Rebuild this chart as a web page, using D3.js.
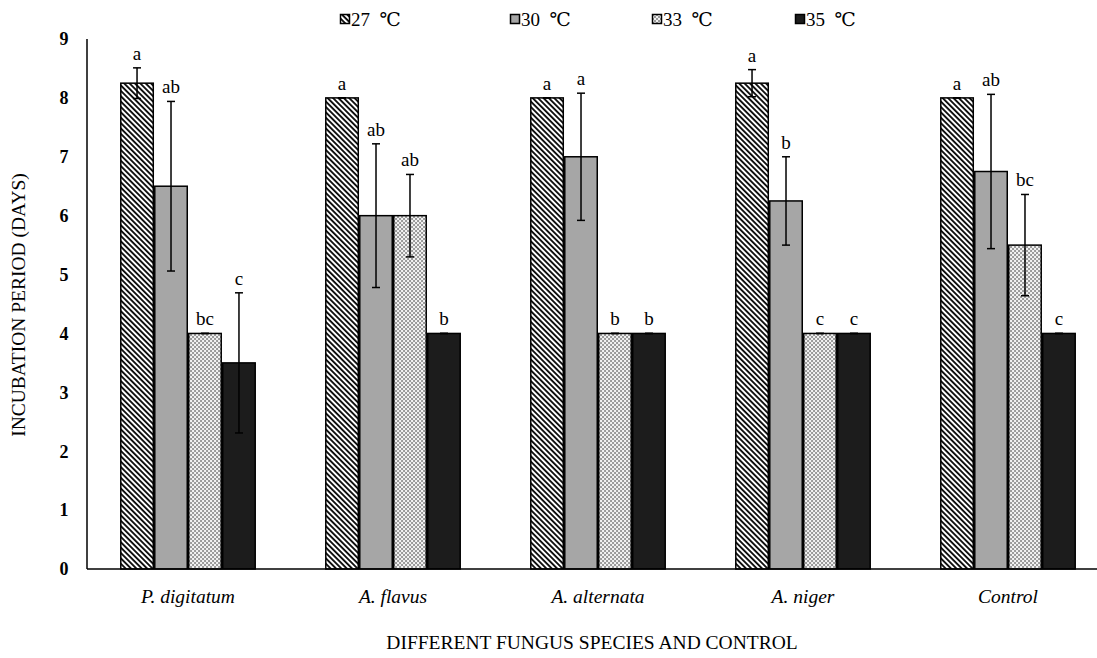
<!DOCTYPE html>
<html><head><meta charset="utf-8">
<script src="https://cdn.jsdelivr.net/npm/d3@7"></script>
<style>body{margin:0;background:#fff}svg{display:block}text{font-family:"Liberation Serif","Times New Roman","DejaVu Serif",serif}</style>
</head><body>
<svg id="chart" width="1097" height="658"></svg>
<script>
const categories = ["P. digitatum", "A. flavus", "A. alternata", "A. niger", "Control"];
const seriesNames = ["27  ℃", "30  ℃", "33  ℃", "35  ℃"];
const s27 = [8.25, 8, 8, 8.25, 8];
const s30 = [6.5, 6, 7, 6.25, 6.75];
const s33 = [4, 6, 4, 4, 5.5];
const s35 = [3.5, 4, 4, 4, 4];
const e27 = [0.26, 0, 0, 0.23, 0];
const e30 = [1.44, 1.22, 1.08, 0.75, 1.31];
const e33 = [0, 0.7, 0, 0, 0.86];
const e35 = [1.19, 0, 0, 0, 0];
const l27 = ["a", "a", "a", "a", "a"];
const l30 = ["ab", "ab", "a", "b", "ab"];
const l33 = ["bc", "ab", "b", "c", "bc"];
const l35 = ["c", "b", "b", "c", "c"];
const yTicks = [0, 1, 2, 3, 4, 5, 6, 7, 8, 9];

const values = [s27, s30, s33, s35];
const errors = [e27, e30, e33, e35];
const letters = [l27, l30, l33, l35];

const svg = d3.select("#chart");
const defs = svg.append("defs");
const ph = defs.append("pattern").attr("id", "hatch").attr("patternUnits", "userSpaceOnUse")
  .attr("width", 3.8).attr("height", 3.8).attr("patternTransform", "rotate(-45)");
ph.append("rect").attr("width", 3.8).attr("height", 3.8).attr("fill", "#fff");
ph.append("rect").attr("width", 1.9).attr("height", 3.8).attr("fill", "#111");
const pd = defs.append("pattern").attr("id", "dots").attr("patternUnits", "userSpaceOnUse")
  .attr("width", 4).attr("height", 4);
pd.append("rect").attr("width", 4).attr("height", 4).attr("fill", "#f2f2f2");
pd.append("rect").attr("width", 2).attr("height", 2).attr("fill", "#9a9a9a");
pd.append("rect").attr("x", 2).attr("y", 2).attr("width", 2).attr("height", 2).attr("fill", "#9a9a9a");

const fills = ["url(#hatch)", "#a6a6a6", "url(#dots)", "#1c1c1c"];

const x0 = d3.scaleBand().domain(categories).range([85.5, 1110.5]).paddingInner(0.337).paddingOuter(0.1685);
const x1 = d3.scaleBand().domain(d3.range(4)).range([0, x0.bandwidth()]);
const y = d3.scaleLinear().domain([0, 9]).range([569, 39]);

categories.forEach((c, i) => {
  const g = svg.append("g").attr("transform", `translate(${x0(c)},0)`);
  for (let s = 0; s < 4; s++) {
    const v = values[s][i], e = errors[s][i];
    const bx = x1(s), bw = x1.bandwidth();
    g.append("rect").attr("x", bx + 0.75).attr("y", y(v)).attr("width", bw - 1.5).attr("height", y(0) - y(v))
      .attr("fill", fills[s]).attr("stroke", "#000").attr("stroke-width", 1.5);
    const cx = bx + bw / 2;
    g.append("line").attr("x1", cx).attr("x2", cx).attr("y1", y(v + e)).attr("y2", y(v - e))
      .attr("stroke", "#000").attr("stroke-width", 1.5);
    [v + e, v - e].forEach(t => g.append("line").attr("x1", cx - 4).attr("x2", cx + 4).attr("y1", y(t)).attr("y2", y(t))
      .attr("stroke", "#000").attr("stroke-width", 1.5));
    g.append("text").attr("x", cx).attr("y", y(v + e) - 8).attr("text-anchor", "middle")
      .attr("font-size", 19).attr("fill", "#000").text(letters[s][i]);
  }
});

svg.append("line").attr("x1", 87).attr("x2", 1097).attr("y1", y(0)).attr("y2", y(0)).attr("stroke", "#000").attr("stroke-width", 1.5);
svg.append("line").attr("x1", 87).attr("x2", 87).attr("y1", y(0)).attr("y2", y(9)).attr("stroke", "#000").attr("stroke-width", 1.5);

svg.append("g").selectAll("text").data(yTicks).join("text")
  .attr("x", 64).attr("y", d => y(d)).attr("dy", "0.35em").attr("text-anchor", "middle")
  .attr("font-size", 18).attr("font-weight", "bold").attr("fill", "#000").text(d => d);

svg.append("g").selectAll("text").data(categories).join("text")
  .attr("x", d => x0(d) + x0.bandwidth() / 2).attr("y", 603).attr("text-anchor", "middle")
  .attr("font-size", 19.5).attr("font-style", "italic").attr("fill", "#000").text(d => d);

svg.append("text").attr("transform", "translate(25,305) rotate(-90)").attr("text-anchor", "middle")
  .attr("font-size", 19.5).attr("fill", "#000").text("INCUBATION PERIOD (DAYS)");
svg.append("text").attr("x", 592).attr("y", 649).attr("text-anchor", "middle")
  .attr("font-size", 19.5).attr("fill", "#000").text("DIFFERENT FUNGUS SPECIES AND CONTROL");

const legendX = [340, 510, 652, 795];
seriesNames.forEach((n, s) => {
  const g = svg.append("g").attr("transform", `translate(${legendX[s]},14)`);
  g.append("rect").attr("x", 0.5).attr("y", 0.5).attr("width", 9).attr("height", 9)
    .attr("fill", fills[s]).attr("stroke", "#000").attr("stroke-width", 1.5);
  g.append("text").attr("x", 11).attr("y", 11.5).attr("font-size", 19)
    .attr("fill", "#000").style("white-space", "pre").text(n);
});
</script>
</body></html>
